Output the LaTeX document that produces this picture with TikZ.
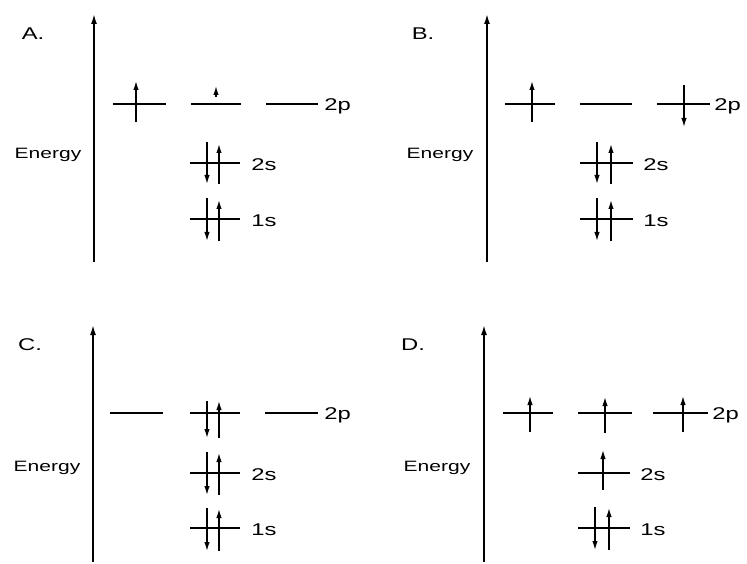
\documentclass[tikz,border=0pt]{standalone}
\usepackage{fontspec}
\setmainfont{Liberation Sans}
\usetikzlibrary{arrows.meta}
\begin{document}
\begin{tikzpicture}[x=1pt,y=-1pt,
  level/.style={line width=1.2pt},
  spin/.style={line width=1.4pt,-{Latex[length=9pt,width=5.5pt]}},
  axis/.style={line width=1.6pt,-{Latex[length=10pt,width=6pt]}},
  lbl/.style={font=\fontsize{17}{19}\selectfont,inner sep=0pt,anchor=west,xscale=1.4},
  ttl/.style={font=\fontsize{17}{19}\selectfont,inner sep=0pt,xscale=1.4},
  en/.style={font=\fontsize{15}{17}\selectfont,inner sep=0pt,xscale=1.4}]
\useasboundingbox (0,0) rectangle (747,564);
% ---------- Panel A ----------
\coordinate (aA0) at (94,262); \coordinate (aA1) at (94,14);
\draw[axis] (aA0) -- (aA1);
\node[ttl] (tA) at (33,34) {A.};
\node[en] (eA) at (48,155) {Energy};
\draw[level] (113,104) -- (166,104);
\draw[level] (191,104) -- (241,104);
\draw[level] (266,104) -- (318,104);
\node[lbl] (pA) at (324,106) {2p};
\draw[spin] (136,122) -- (136,81);
\draw[spin] (216,97) -- (216,86);
\draw[level] (190,163) -- (240,163);
\draw[spin] (207,142) -- (207,184);
\draw[spin] (219,184) -- (219,144);
\node[lbl] (sA2) at (251,165) {2s};
\draw[level] (190,219) -- (240,219);
\draw[spin] (207,198) -- (207,241);
\draw[spin] (219,241) -- (219,200);
\node[lbl] (sA1) at (251,221) {1s};
% ---------- Panel B ----------
\coordinate (aB0) at (487,262); \coordinate (aB1) at (487,14);
\draw[axis] (aB0) -- (aB1);
\node[ttl] (tB) at (423,34) {B.};
\node[en] (eB) at (440,155) {Energy};
\draw[level] (505,104) -- (555,104);
\draw[level] (580,104) -- (632,104);
\draw[level] (657,104) -- (710,104);
\node[lbl] (pB) at (714,106) {2p};
\draw[spin] (532,122) -- (532,81);
\draw[spin] (684,85) -- (684,127);
\draw[level] (580,163) -- (633,163);
\draw[spin] (597,142) -- (597,184);
\draw[spin] (611,184) -- (611,144);
\node[lbl] (sB2) at (643,165) {2s};
\draw[level] (580,219) -- (633,219);
\draw[spin] (597,198) -- (597,241);
\draw[spin] (611,241) -- (611,200);
\node[lbl] (sB1) at (643,221) {1s};
% ---------- Panel C ----------
\coordinate (aC0) at (93,562); \coordinate (aC1) at (93,325);
\draw[axis] (aC0) -- (aC1);
\node[ttl] (tC) at (30,345) {C.};
\node[en] (eC) at (47,468) {Energy};
\draw[level] (110,413) -- (163,413);
\draw[level] (190,413) -- (240,413);
\draw[level] (265,413) -- (318,413);
\node[lbl] (pC) at (324,415) {2p};
\draw[spin] (207,401) -- (207,438);
\draw[spin] (219,438) -- (219,401);
\draw[level] (190,473) -- (240,473);
\draw[spin] (207,452) -- (207,495);
\draw[spin] (219,495) -- (219,453);
\node[lbl] (sC2) at (251,475) {2s};
\draw[level] (190,528) -- (240,528);
\draw[spin] (207,508) -- (207,551);
\draw[spin] (219,551) -- (219,509);
\node[lbl] (sC1) at (251,530) {1s};
% ---------- Panel D ----------
\coordinate (aD0) at (484,562); \coordinate (aD1) at (484,325);
\draw[axis] (aD0) -- (aD1);
\node[ttl] (tD) at (413,345) {D.};
\node[en] (eD) at (437,468) {Energy};
\draw[level] (503,413) -- (553,413);
\draw[level] (578,413) -- (632,413);
\draw[level] (653,413) -- (708,413);
\node[lbl] (pD) at (712,415) {2p};
\draw[spin] (530,432) -- (530,396);
\draw[spin] (605,433) -- (605,397);
\draw[spin] (683,432) -- (683,396);
\draw[level] (578,473) -- (630,473);
\draw[spin] (603,490) -- (603,450);
\node[lbl] (sD2) at (640,475) {2s};
\draw[level] (578,528) -- (630,528);
\draw[spin] (595,507) -- (595,550);
\draw[spin] (609,550) -- (609,508);
\node[lbl] (sD1) at (640,530) {1s};
\end{tikzpicture}
\end{document}
